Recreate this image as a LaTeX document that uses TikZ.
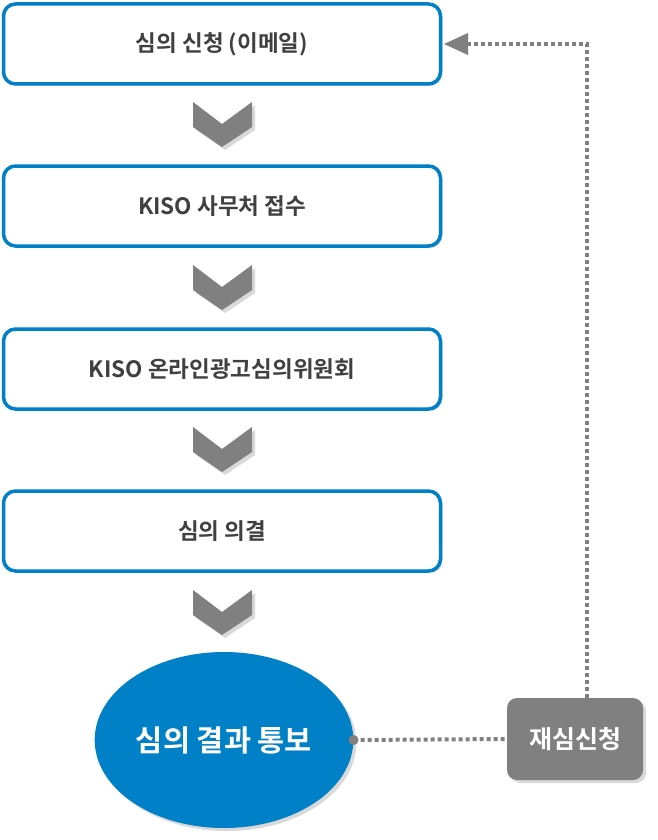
\documentclass[tikz,border=0pt]{standalone}
\usepackage{fontspec}
\setmainfont{Noto Sans CJK KR}[BoldFont={Noto Sans CJK KR Bold}]
\usetikzlibrary{shadows,arrows.meta,shapes.geometric}
\definecolor{kblue}{HTML}{0080C6}
\definecolor{kgray}{HTML}{808080}
\definecolor{ktext}{HTML}{404040}
\tikzset{
  stepbox/.style={draw=kblue, line width=3.5pt, fill=white, rounded corners=12pt,
    minimum width=437pt, minimum height=80pt, font=\bfseries\fontsize{22.5}{26}\selectfont, text=ktext,
    drop shadow={opacity=0.25, shadow xshift=2pt, shadow yshift=-2pt}},
  chev/.style={fill=kgray, drop shadow={opacity=0.3, shadow xshift=3pt, shadow yshift=-3pt}},
  dotline/.style={draw=kgray, line width=4pt, dash pattern=on 4pt off 3pt}
}
\begin{document}
\begin{tikzpicture}[x=1pt,y=-1pt]
\useasboundingbox (0,0) rectangle (658,840);
\node[stepbox] (b1) at (222,44) {심의 신청 (이메일)};
\node[stepbox] (b2) at (222,206) {KISO 사무처 접수};
\node[stepbox] (b3) at (222,369) {KISO 온라인광고심의위원회};
\node[stepbox] (b4) at (222,531) {심의 의결};
\foreach \y in {102,265,427,590}{
  \fill[chev] (193,\y) -- (222,\y+22) -- (252,\y) -- (252,\y+25) -- (222,\y+45) -- (193,\y+25) -- cycle;
}
\node[ellipse, fill=kblue, minimum width=240pt, minimum height=176pt, text=white,
  font=\bfseries\fontsize{29.5}{32}\selectfont,
  drop shadow={opacity=0.3, shadow xshift=3pt, shadow yshift=-3pt}] (res) at (224,740) {심의 결과 통보};
\node[fill=kgray, rounded corners=10pt, minimum width=136pt, minimum height=82pt, text=white,
  font=\bfseries\fontsize{25}{28}\selectfont,
  drop shadow={opacity=0.3, shadow xshift=3pt, shadow yshift=-3pt}] (re) at (575,739) {재심신청};
\coordinate (corner) at (587,44);
\draw[dotline] (res.east) -- (re.west);
\fill[kgray] (res.east) circle (5pt);
\draw[dotline] (re.north -| corner) -- (corner) -- (465,44);
\fill[kgray] (444,44) -- (468,33) -- (468,55) -- cycle;
\end{tikzpicture}
\end{document}
